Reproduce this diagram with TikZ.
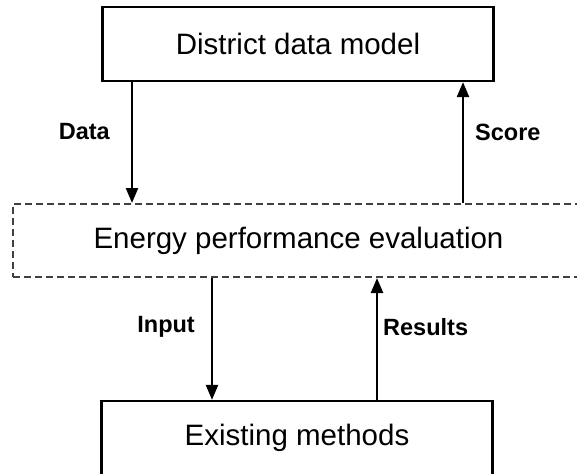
\documentclass[tikz,border=0pt]{standalone}
\usepackage{fontspec}
\setmainfont{Liberation Sans}
\usetikzlibrary{arrows.meta,positioning}
\tikzstyle{block}=[draw=black,line width=2.2pt,minimum width=391pt,minimum height=74pt,font=\fontsize{29.5}{34}\selectfont]
\tikzstyle{evalbox}=[draw=black!75,dash pattern=on 7pt off 4pt,line width=2pt,minimum width=600pt,minimum height=73pt]
\tikzstyle{flow}=[line width=2.4pt,-{Triangle[length=15pt,width=12pt]}]
\tikzstyle{lbl}=[font=\bfseries\fontsize{23.5}{28}\selectfont,inner sep=0pt]
\begin{document}
\begin{tikzpicture}[x=1pt,y=-1pt]
	\useasboundingbox (0,0) rectangle (577,473);
	\clip (0,0) rectangle (577,473);
	\node[block] (model) at (298,44) {District data model};
	\node[evalbox,anchor=west] (eval) at (12,240.5) {};
	\node[font=\fontsize{29.5}{34}\selectfont] (evaltxt) at (298.5,241) {Energy performance evaluation};
	\node[block] (methods) at (297,438) {Existing methods};
	% x positions of the four arrows
	\coordinate (xdata) at (132,0);
	\coordinate (xscore) at (463,0);
	\coordinate (xinput) at (212,0);
	\coordinate (xresults) at (377,0);
	\draw[flow] (model.south -| xdata) -- (eval.north -| xdata) node[lbl,pos=0.41,left=21pt] (datalbl) {Data};
	\draw[flow] (eval.north -| xscore) -- (model.south -| xscore) node[lbl,pos=0.58,right=11pt] (scorelbl) {Score};
	\draw[flow] (eval.south -| xinput) -- (methods.north -| xinput) node[lbl,pos=0.4,left=16pt] (inputlbl) {Input};
	\draw[flow] (methods.north -| xresults) -- (eval.south -| xresults) node[lbl,pos=0.6,right=5pt] (resultslbl) {Results};
\end{tikzpicture}
\end{document}
